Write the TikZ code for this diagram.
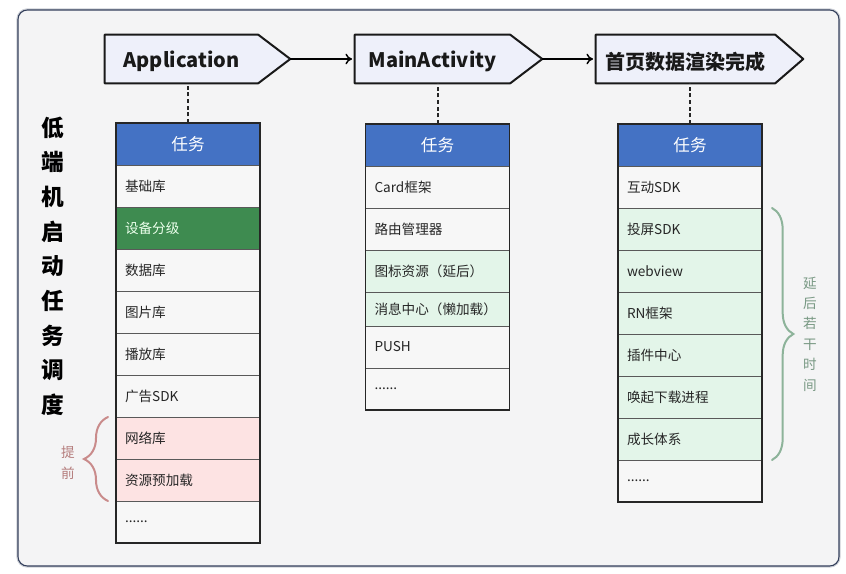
\documentclass[tikz,border=0pt]{standalone}
\usepackage{fontspec}
\setmainfont{Noto Sans CJK SC}
\usepackage{tikz}
\usetikzlibrary{arrows.meta,positioning,calc,backgrounds,decorations.pathreplacing}
\definecolor{lsblue}{HTML}{4472C4}
\definecolor{lsgreen}{HTML}{3E8B50}
\definecolor{lsmint}{HTML}{E3F5E9}
\definecolor{lspink}{HTML}{FDE3E3}
\definecolor{lspaper}{HTML}{F4F4F5}
\definecolor{lsstage}{HTML}{EEF0FA}
\definecolor{lsframe}{HTML}{34405C}
\definecolor{lsrose}{HTML}{C98B8B}
\definecolor{lssage}{HTML}{8DB39A}
\newcommand{\moredots}{......}

\begin{document}
\begin{tikzpicture}[x=0.75pt, y=-0.75pt,
    stage/.style={inner sep=0pt, minimum height=36pt, text height=13pt, text depth=0pt, font=\bfseries\fontsize{15}{18}\selectfont, text=black!90},
    stageline/.style={draw=black!90, fill=lsstage, line width=1.5pt, line join=round},
    flow/.style={-{To[length=5pt, width=8pt]}, line width=1.1pt, shorten >=2pt},
    tick/.style={dashed, dash pattern=on 3pt off 2pt, line width=1.5pt, black!85},
    taskhead/.style={draw=black!80, fill=lsblue, text=white, minimum height=31.5pt, minimum width=108pt, inner sep=0pt, outer sep=0pt, font=\fontsize{12.5}{14}\selectfont},
    cell/.style={draw=black!65, fill=white!97!black, text=black!85, minimum height=31.5pt, text width=94.5pt, inner xsep=6.75pt, inner ysep=0pt, outer sep=0pt, align=left, font=\fontsize{10.2}{12}\selectfont},
    celldark/.style={cell, fill=lsgreen, text=green!8},
    cellmint/.style={cell, fill=lsmint},
    cellmintshort/.style={cellmint, minimum height=25.5pt},
    cellpink/.style={cell, fill=lspink},
    tableline/.style={draw=black!85, line width=0.9pt},
    brc/.style={decorate, decoration={brace, amplitude=#1}, line width=1.5pt, line cap=round},
    side/.style={align=center, font=\fontsize{10.2}{15.3}\selectfont}
  ]
  \useasboundingbox (0,0) rectangle (846,574);

  % Stages
  \node[stage, minimum width=114.75pt] (app) at (181.5,59) {Application};
  \node[stage, minimum width=116.25pt] (main) at (432.5,59) {MainActivity};
  \node[stage, minimum width=134.25pt, text height=15.5pt] (done) at (685.5,59) {首页数据渲染完成};

  \begin{scope}[on background layer]
    \draw[lsframe!25, line width=2.5pt, rounded corners=7pt] (18,10) rectangle (839,566);
    \draw[lsframe, fill=lspaper, line width=0.8pt, rounded corners=7pt] (18,10) rectangle (839,566);
    \foreach \n/\t in {app/32, main/32, done/28}
      \draw[stageline] (\n.north west) -- (\n.north east) -- ($(\n.east)+(\t,0)$) coordinate (\n tip) -- (\n.south east) -- (\n.south west) -- cycle;
  \end{scope}

  \draw[flow] (apptip) -- (main.west);
  \draw[flow] (maintip) -- (done.west);

  % Application tasks
  \node[taskhead] (a0) at (188,144) {任务};
  \foreach \txt/\sty [count=\i, remember=\i as \j (initially 0)] in {基础库/cell, 设备分级/celldark, 数据库/cell, 图片库/cell, 播放库/cell, 广告SDK/cell, 网络库/cellpink, 资源预加载/cellpink, \moredots/cell}
    \node[\sty, below=0pt of a\j] (a\i) {\txt};
  \draw[tableline] (a0.north west) rectangle (a9.south east);

  % MainActivity tasks
  \node[taskhead] (b0) at (437.5,145) {任务};
  \foreach \txt/\sty [count=\i, remember=\i as \j (initially 0)] in {Card框架/cell, 路由管理器/cell, 图标资源（延后）/cellmint, 消息中心（懒加载）/cellmintshort, PUSH/cell, \moredots/cell}
    \node[\sty, below=0pt of b\j] (b\i) {\txt};
  \draw[tableline] (b0.north west) rectangle (b6.south east);

  % Home page tasks
  \node[taskhead] (c0) at (690,145) {任务};
  \foreach \txt/\sty [count=\i, remember=\i as \j (initially 0)] in {互动SDK/cell, 投屏SDK/cellmint, webview/cellmint, RN框架/cellmint, 插件中心/cellmint, 唤起下载进程/cellmint, 成长体系/cellmint, \moredots/cell}
    \node[\sty, below=0pt of c\j] (c\i) {\txt};
  \draw[tableline] (c0.north west) rectangle (c8.south east);

  % Stage to task lists
  \draw[tick] (a0.north) -- (a0.north |- app.south);
  \draw[tick] (b0.north) -- (b0.north |- main.south);
  \draw[tick] (c0.north) -- (c0.north |- done.south);

  % Title
  \node[align=center, font=\bfseries\fontsize{17}{26}\selectfont] (title) at (53,266) {低\\端\\机\\启\\动\\任\\务\\调\\度};

  % Braces
  \draw[brc=18pt, lsrose, decoration={raise=6pt}] (a8.south west) -- (a7.north west);
  \node[side, text=lsrose!90!black] (early) at (68,463) {提\\前};
  \draw[brc=16pt, lssage, decoration={raise=7.5pt}] (c2.north east) -- (c7.south east);
  \node[side, text=lssage!85!black] (later) at (810,334) {延\\后\\若\\干\\时\\间};
\end{tikzpicture}
\end{document}
